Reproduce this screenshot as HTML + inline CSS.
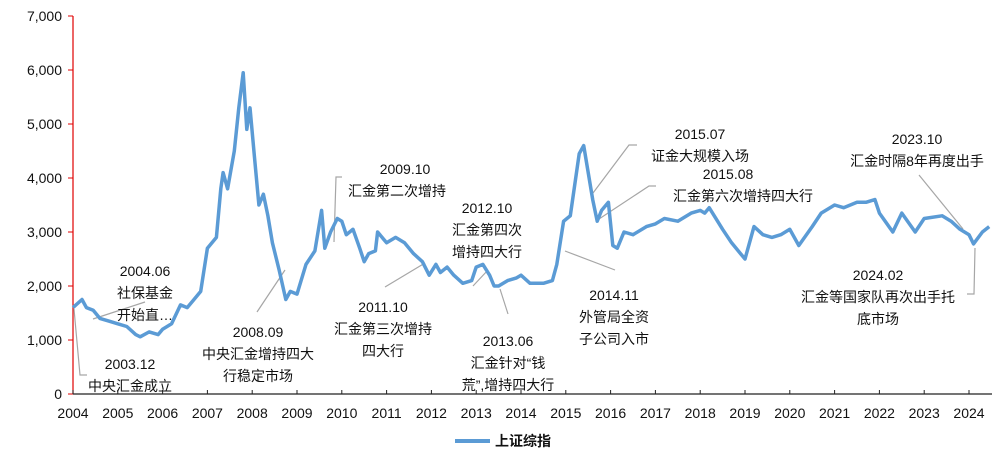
<!DOCTYPE html>
<html><head><meta charset="utf-8"><style>
html,body{margin:0;padding:0;background:#fff;}
svg text{font-family:"Liberation Sans","Noto Sans CJK SC",sans-serif;fill:#111;}
</style></head><body>
<svg id="chart" width="1007" height="466" viewBox="0 0 1007 466" xmlns="http://www.w3.org/2000/svg">
<g id="axes"></g>
<g id="notes" font-size="14" text-anchor="middle"></g>
<g id="series"></g>
<g>
<line x1="455" y1="441" x2="490" y2="441" stroke="#5b9bd5" stroke-width="4"/>
<text x="495" y="446" font-size="14" font-weight="bold">上证综指</text>
</g>
</svg>
<script>
const dates=[2004.0,2004.2,2004.3,2004.45,2004.6,2004.8,2005.0,2005.2,2005.4,2005.5,2005.7,2005.9,2006.0,2006.2,2006.4,2006.55,2006.7,2006.85,2007.0,2007.2,2007.3,2007.35,2007.45,2007.6,2007.7,2007.8,2007.88,2007.95,2008.05,2008.15,2008.25,2008.35,2008.45,2008.6,2008.75,2008.85,2009.0,2009.2,2009.4,2009.55,2009.62,2009.75,2009.9,2010.0,2010.1,2010.25,2010.4,2010.5,2010.6,2010.75,2010.8,2011.0,2011.2,2011.4,2011.6,2011.8,2011.95,2012.1,2012.2,2012.35,2012.5,2012.7,2012.9,2013.0,2013.15,2013.3,2013.4,2013.5,2013.7,2013.9,2014.0,2014.2,2014.5,2014.7,2014.8,2014.95,2015.1,2015.3,2015.4,2015.5,2015.6,2015.7,2015.8,2015.95,2016.05,2016.15,2016.3,2016.5,2016.8,2017.0,2017.2,2017.5,2017.8,2018.0,2018.1,2018.2,2018.5,2018.7,2018.9,2019.0,2019.2,2019.4,2019.6,2019.8,2020.0,2020.2,2020.5,2020.7,2021.0,2021.2,2021.5,2021.7,2021.9,2022.0,2022.3,2022.5,2022.8,2023.0,2023.4,2023.6,2023.8,2024.0,2024.1,2024.3,2024.45];
const values=[1600,1750,1600,1550,1400,1350,1300,1250,1100,1060,1150,1100,1200,1300,1650,1600,1750,1900,2700,2900,3800,4100,3800,4500,5300,5950,4900,5300,4400,3500,3700,3300,2800,2300,1750,1900,1850,2400,2650,3400,2700,3000,3250,3200,2950,3050,2700,2450,2600,2650,3000,2800,2900,2800,2600,2450,2200,2400,2250,2350,2200,2050,2100,2350,2400,2200,2000,2000,2100,2150,2200,2050,2050,2100,2400,3200,3300,4450,4600,4100,3600,3200,3400,3550,2750,2700,3000,2950,3100,3150,3250,3200,3350,3400,3350,3450,3050,2800,2600,2500,3100,2950,2900,2950,3050,2750,3100,3350,3500,3450,3550,3550,3600,3350,3000,3350,3000,3250,3300,3200,3050,2950,2780,3000,3100];
const yTicks=[0,1000,2000,3000,4000,5000,6000,7000];
const yTickLabels=["0","1,000","2,000","3,000","4,000","5,000","6,000","7,000"];
const xYears=[2004,2005,2006,2007,2008,2009,2010,2011,2012,2013,2014,2015,2016,2017,2018,2019,2020,2021,2022,2023,2024];
const NS="http://www.w3.org/2000/svg";
const x=v=>73+(v-2004)*44.8;
const y=v=>394-v*0.054;
function mk(tag,attrs,parent){const e=document.createElementNS(NS,tag);for(const k in attrs)e.setAttribute(k,attrs[k]);parent.appendChild(e);return e;}
const ax=document.getElementById('axes');
yTicks.forEach((t,i)=>{
 const tk=mk('line',{x1:68,x2:73,y1:y(t),y2:y(t),stroke:'#e00000','stroke-width':1},ax);
 
 
 const lb=mk('text',{x:62,y:y(t)+5,'font-size':14,'text-anchor':'end'},ax);
 lb.textContent=yTickLabels[i];
 
 
});
const ya=mk('line',{x1:73,x2:73,y1:y(7000),y2:394,stroke:'#e00000','stroke-width':1.2},ax);


const xa=mk('line',{x1:73,x2:992,y1:394,y2:394,stroke:'#222','stroke-width':1.2},ax);


xYears.forEach(yr=>{
 const tk=mk('line',{x1:x(yr),x2:x(yr),y1:390,y2:394,stroke:'#222','stroke-width':1},ax);
 
 
 const lb=mk('text',{x:x(yr),y:418,'font-size':14,'text-anchor':'middle'},ax);
 lb.textContent=String(yr);
 
 
});
const ser=document.getElementById('series');
const pts=dates.map((d,i)=>x(d).toFixed(1)+','+y(values[i]).toFixed(1)).join(' ');
const pl=mk('polyline',{points:pts,fill:'none',stroke:'#5b9bd5','stroke-width':3.5,'stroke-linejoin':'round'},ser);


const notes=[
 {n:'note-2004-06',lines:[[145,276,'2004.06'],[145,298,'社保基金'],[145,320,'开始直…']],lead:'93,319 145,302'},
 {n:'note-2003-12',lines:[[130,369,'2003.12'],[130,391,'中央汇金成立']],lead:'74,309 80,375 87,375'},
 {n:'note-2008-09',lines:[[258,337,'2008.09'],[258,359,'中央汇金增持四大'],[258,381,'行稳定市场']],lead:'285,270 257,312'},
 {n:'note-2009-10',lines:[[405,174,'2009.10'],[397,196,'汇金第二次增持']],lead:'334,242 336,177 342,177'},
 {n:'note-2011-10',lines:[[383,312,'2011.10'],[383,334,'汇金第三次增持'],[383,356,'四大行']],lead:'385,287 425,263'},
 {n:'note-2012-10',lines:[[487,213,'2012.10'],[487,235,'汇金第四次'],[487,257,'增持四大行']],lead:'473,286 488,270'},
 {n:'note-2013-06',lines:[[508,346,'2013.06'],[508,368,'汇金针对“钱'],[508,390,'荒”,增持四大行']],lead:'500,289 508,314'},
 {n:'note-2014-11',lines:[[614,300,'2014.11'],[614,322,'外管局全资'],[614,344,'子公司入市']],lead:'565,251 615,270'},
 {n:'note-2015-07',lines:[[700,139,'2015.07'],[700,161,'证金大规模入场']],lead:'593,193 629,145 637,145'},
 {n:'note-2015-08',lines:[[728,179,'2015.08'],[743,201,'汇金第六次增持四大行']],lead:'599,219 649,186 656,186'},
 {n:'note-2023-10',lines:[[917,144,'2023.10'],[917,166,'汇金时隔8年再度出手']],lead:'919,175 963,229'},
 {n:'note-2024-02',lines:[[878,280,'2024.02'],[878,302,'汇金等国家队再次出手托'],[878,324,'底市场']],lead:'975,248 974,294 967,294'}
];
const ng=document.getElementById('notes');
notes.forEach(o=>{
 const g=mk('g',{},ng);
 
 
 const ld=mk('polyline',{points:o.lead,fill:'none',stroke:'#a6a6a6','stroke-width':1.2},g);
 
 
 o.lines.forEach(l=>{const t=mk('text',{x:l[0],y:l[1]},g);t.textContent=l[2];
  
  });
});
</script>
</body></html>
